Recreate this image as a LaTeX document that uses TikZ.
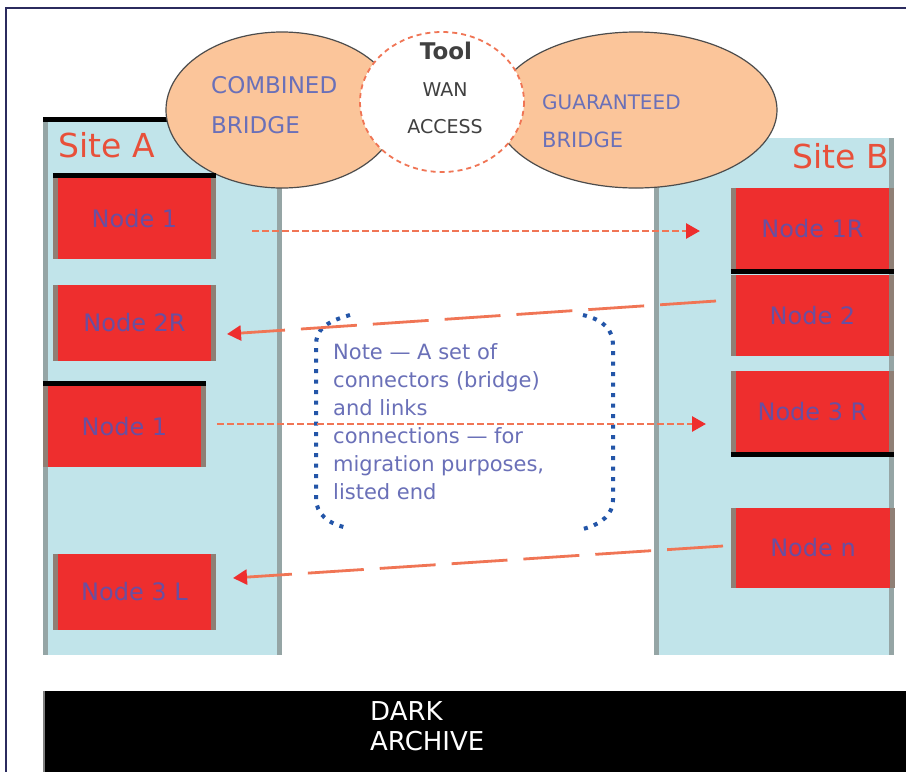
\documentclass[tikz,border=0pt]{standalone}
\usepackage{fontspec}
\setmainfont{DejaVu Sans}
\usetikzlibrary{arrows.meta,calc}
\definecolor{panelblue}{HTML}{C1E4EA}
\definecolor{panelgray}{HTML}{95A5A5}
\definecolor{nodered}{HTML}{EE2E2E}
\definecolor{nodetext}{HTML}{6A4FA0}
\definecolor{nodeside}{HTML}{8F7F75}
\definecolor{peach}{HTML}{FBC59A}
\definecolor{conncol}{HTML}{F07555}
\definecolor{noteblue}{HTML}{2355A8}
\definecolor{notetext}{HTML}{6A70B8}
\definecolor{sitered}{HTML}{E8503A}
\definecolor{framecol}{HTML}{2B2B5E}
\tikzset{
  panel/.style={fill=panelblue, draw=none},
  sideline/.style={draw=panelgray, line width=5pt},
  nodebox/.style={fill=nodered, draw=none, minimum width=163pt, inner sep=0pt,
     text=nodetext, font=\fontsize{24}{28}\selectfont},
  nodeside/.style={draw=nodeside, line width=5pt},
  nodeedge/.style={draw=black, line width=5pt},
  conn/.style={draw=conncol, line width=2.8pt, dash pattern=on 7pt off 3pt,
     -{Triangle[length=14pt,width=15pt,fill=nodered,color=nodered]}},
  longconn/.style={conn, dash pattern=on 56pt off 16pt},
  ovaltext/.style={text=notetext, anchor=west, inner sep=0pt},
  centertext/.style={text=black!75, inner sep=0pt},
  sitelabel/.style={text=sitered, font=\fontsize{33}{36}\selectfont, inner sep=0pt},
  notebracket/.style={draw=noteblue, line width=4pt, dash pattern=on 4pt off 6.5pt},
}
\begin{document}
\begin{tikzpicture}[x=1pt,y=-1pt]
\useasboundingbox (0,0) rectangle (906,772);
\fill[white] (0,0) rectangle (906,772);
\draw[framecol, line width=2pt] (906,8) -- (6,8) -- (6,772);

% panels
\fill[panel] (43,117) rectangle (282,655);
\draw[sideline] (45.5,117) -- (45.5,655);
\draw[sideline] (279.5,117) -- (279.5,655);
\draw[black, line width=5pt] (43,119.5) -- (220,119.5);
\node[sitelabel, anchor=west] (siteA) at (58,145) {Site A};

\fill[panel] (654,138) rectangle (894,655);
\draw[sideline] (656.5,138) -- (656.5,655);
\draw[sideline] (891.5,138) -- (891.5,655);
\node[sitelabel, anchor=east] (siteB) at (889,156) {Site B};

% ellipses
\draw[fill=peach, draw=gray!60!black, line width=1.2pt] (282,110) ellipse [x radius=116, y radius=78];
\draw[fill=peach, draw=gray!60!black, line width=1.2pt] (636,110) ellipse [x radius=141, y radius=78];
\draw[fill=white, draw=conncol, line width=1.8pt, dash pattern=on 5pt off 4pt] (442,102) ellipse [x radius=82, y radius=70];
\node[ovaltext, font=\fontsize{23}{26}\selectfont] (lov1) at (211,85) {COMBINED};
\node[ovaltext, font=\fontsize{23}{26}\selectfont] (lov2) at (211,125) {BRIDGE};
\node[ovaltext, font=\fontsize{20}{24}\selectfont] (rov1) at (542,102) {GUARANTEED};
\node[ovaltext, font=\fontsize{21}{24}\selectfont] (rov2) at (542,140) {BRIDGE};
\node[centertext, font=\fontsize{23}{26}\selectfont\bfseries] (ctop) at (446,51) {Tool};
\node[centertext, font=\fontsize{19}{22}\selectfont] (cmid) at (445,90) {WAN};
\node[centertext, font=\fontsize{19}{22}\selectfont] (cbot) at (445,127) {ACCESS};

% left nodes
\node[nodebox, minimum height=81pt] (l1) at (134.5,218.5) {Node 1};
\node[nodebox, minimum height=76pt] (l2) at (134.5,323) {Node 2R};
\node[nodebox, minimum height=81pt] (l3) at (124.5,426.5) {Node 1};
\node[nodebox, minimum height=76pt] (l4) at (134.5,592) {Node 3 L};
% right nodes
\node[nodebox, minimum height=81pt] (r1) at (812.5,228.5) {Node 1R};
\node[nodebox, minimum height=81pt] (r2) at (812.5,315.5) {Node 2};
\node[nodebox, minimum height=81pt] (r3) at (812.5,411.5) {Node 3 R};
\node[nodebox, minimum height=80pt] (r4) at (813,548) {Node n};
\foreach \n in {l1,l2,l3,l4,r1,r2,r3,r4}{
  \draw[nodeside] ([xshift=2.5pt]\n.north west) -- ([xshift=2.5pt]\n.south west);
  \draw[nodeside] ([xshift=-2.5pt]\n.north east) -- ([xshift=-2.5pt]\n.south east);
}
\draw[nodeedge] ([yshift=2.5pt]l1.north west) -- ([yshift=2.5pt]l1.north east);
\draw[nodeedge] ([yshift=2.5pt]l3.north west) -- ([yshift=2.5pt]l3.north east);
\draw[nodeedge] ([yshift=-2.5pt]r1.south west) -- ([yshift=-2.5pt]r1.south east);
\draw[nodeedge] ([yshift=-2.5pt]r3.south west) -- ([yshift=-2.5pt]r3.south east);

% note (bracket-shaped frame)
\coordinate (nlt) at (350,315);
\coordinate (nlb) at (348,528);
\coordinate (nrt) at (583,315);
\coordinate (nrb) at (583,529);
\draw[notebracket] (nlt) .. controls (325,322) and (316,330) .. (316,345) -- (316,498)
   .. controls (316,514) and (328,524) .. (nlb);
\draw[notebracket] (nrt) .. controls (604,320) and (613,330) .. (613,345) -- (613,500)
   .. controls (613,514) and (602,524) .. (nrb);
\node[text=notetext, font=\fontsize{21}{28}\selectfont, align=left, anchor=north west, inner sep=0pt] (note) at (333,343)
 {Note — A set of\\connectors (bridge)\\and links\\connections — for\\migration purposes,\\listed end};

% connectors
\coordinate (c1s) at (252,231);
\coordinate (c1e) at (700,231);
\coordinate (c2s) at (716,301);
\coordinate (c2e) at (227,334);
\coordinate (c3s) at (217,424);
\coordinate (c3e) at (706,424);
\coordinate (c4s) at (723,546);
\coordinate (c4e) at (233,578);
\draw[conn] (c1s) -- (c1e);
\draw[longconn] (c2s) -- (c2e);
\draw[conn] (c3s) -- (c3e);
\draw[longconn] (c4s) -- (c4e);

% bottom bar
\fill[black] (43,691) rectangle (906,772);
\draw[gray, line width=2pt] (44,691) -- (44,772);
\node[text=white, font=\fontsize{26}{30}\selectfont, anchor=west, inner sep=0pt] (dark1) at (370,711) {DARK};
\node[text=white, font=\fontsize{26}{30}\selectfont, anchor=west, inner sep=0pt] (dark2) at (370,741) {ARCHIVE};
\end{tikzpicture}
\end{document}
